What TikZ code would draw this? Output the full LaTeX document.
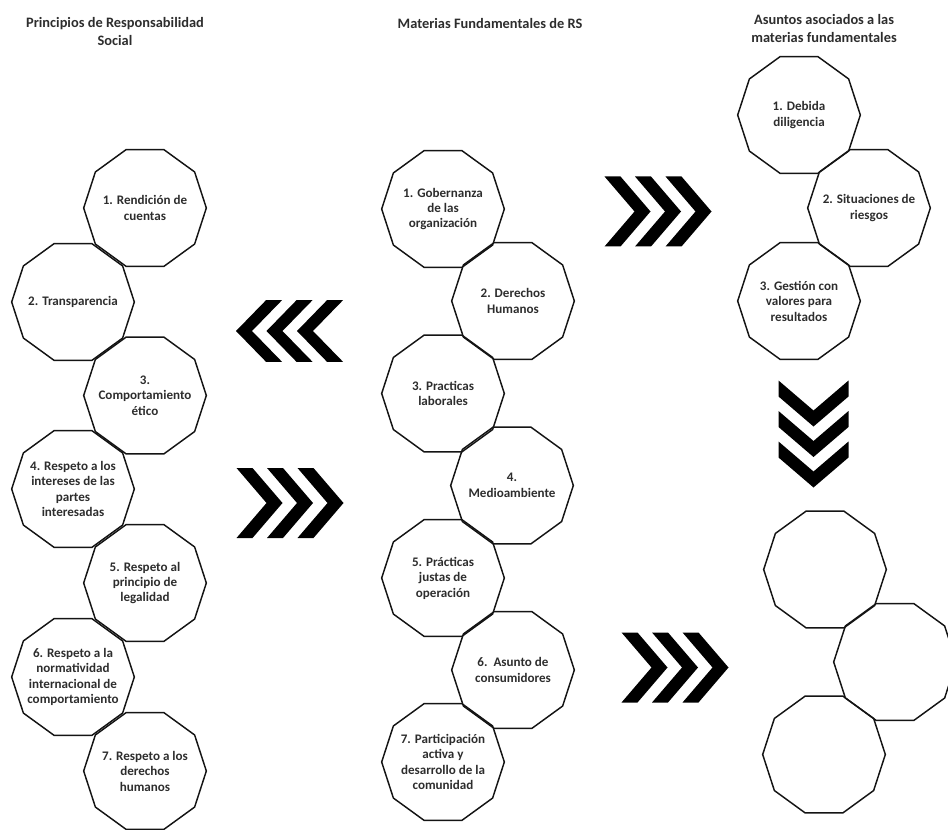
\documentclass[tikz,border=0pt]{standalone}
\usepackage{fontspec}
\setmainfont{Carlito}
\usetikzlibrary{shapes.geometric}
\definecolor{txtgray}{RGB}{45,45,45}
\definecolor{edgegray}{RGB}{20,20,20}

\begin{document}
\begin{tikzpicture}[x=0.75pt, y=-0.75pt,
  deca/.style={draw=edgegray, line width=1.1pt, regular polygon, regular polygon sides=10,
    minimum size=92pt, inner sep=0pt},
  dtxt/.style={align=center, inner sep=0pt, text=txtgray,
    font=\fontsize{9.8}{11.6}\selectfont\bfseries},
  head/.style={align=center, text=txtgray, font=\fontsize{10.8}{13.5}\selectfont\bfseries},
  triplechev/.pic={
    \foreach \k in {0,1,2}
      \fill[black] ({-53+30.5*\k},-35) -- ++(16,0) -- ++(30,35) -- ++(-30,35) -- ++(-16,0) -- ++(30,-35) -- cycle;
  }]
  \useasboundingbox (0,0) rectangle (948,830);

  % titulos
  \node[head] (h1) at (115,32) {Principios de Responsabilidad\\Social};
  \node[head] (h2) at (490,24) {Materias Fundamentales de RS};
  \node[head] (h3) at (824,29) {Asuntos asociados a las\\materias fundamentales};

  % principios
  \node[deca, label={[dtxt]center:{1. Rendición de\\cuentas}}] (p1) at (145,208) {};
  \node[deca, label={[dtxt]center:{2. Transparencia}}] (p2) at (73,302) {};
  \node[deca, label={[dtxt]center:{3.\\Comportamiento\\ético}}] (p3) at (145,395.5) {};
  \node[deca, label={[dtxt]center:{4. Respeto a los\\intereses de las\\partes\\interesadas}}] (p4) at (73,489) {};
  \node[deca, label={[dtxt]center:{5. Respeto al\\principio de\\legalidad}}] (p5) at (145,583) {};
  \node[deca, label={[dtxt]center:{6. Respeto a la\\normatividad\\internacional de\\comportamiento}}] (p6) at (73,677) {};
  \node[deca, label={[dtxt]center:{7. Respeto a los\\derechos\\humanos}}] (p7) at (145,771) {};

  % materias
  \node[deca, label={[dtxt]center:{1. Gobernanza\\de las\\organización}}] (m1) at (443,209) {};
  \node[deca, label={[dtxt]center:{2. Derechos\\Humanos}}] (m2) at (513,301) {};
  \node[deca, label={[dtxt]center:{3. Practicas\\laborales}}] (m3) at (443,393.5) {};
  \node[deca, label={[dtxt]center:{4.\\Medioambiente}}] (m4) at (512,485.5) {};
  \node[deca, label={[dtxt]center:{5. Prácticas\\justas de\\operación}}] (m5) at (443,578) {};
  \node[deca, label={[dtxt]center:{6.\ \ Asunto de\\consumidores}}] (m6) at (513,670) {};
  \node[deca, label={[dtxt]center:{7. Participación\\activa y\\desarrollo de la\\comunidad}}] (m7) at (443,762) {};

  % asuntos
  \node[deca, label={[dtxt]center:{1. Debida\\diligencia}}] (a1) at (799,115) {};
  \node[deca, label={[dtxt]center:{2. Situaciones de\\riesgos}}] (a2) at (869,208) {};
  \node[deca, label={[dtxt]center:{3. Gestión con\\valores para\\resultados}}] (a3) at (799,301) {};

  \node[deca] (b1) at (825,569.5) {};
  \node[deca] (b2) at (895,662) {};
  \node[deca] (b3) at (824,754.5) {};

  % flechas
  \pic[rotate=180, yscale=0.88] at (290,331) {triplechev};
  \pic at (289.5,503) {triplechev};
  \pic at (657.5,211.5) {triplechev};
  \pic at (674.5,667.5) {triplechev};
  \pic[rotate=-90] at (813.5,433.5) {triplechev};
\end{tikzpicture}
\end{document}
